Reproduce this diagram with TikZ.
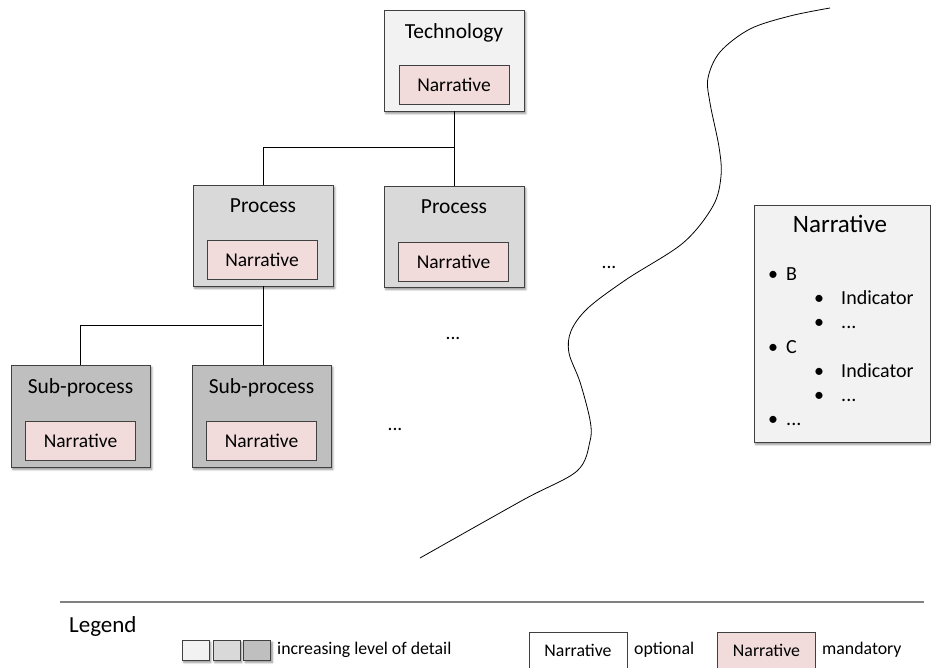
\documentclass[tikz,border=0pt]{standalone}
\usepackage{fontspec}
\setmainfont{Carlito}
\usetikzlibrary{shadows.blur}
\definecolor{lvlA}{HTML}{F2F2F2}
\definecolor{lvlB}{HTML}{D9D9D9}
\definecolor{lvlC}{HTML}{BFBFBF}
\definecolor{pinkbox}{HTML}{F2DCDB}
\definecolor{edgec}{HTML}{404040}
\definecolor{legline}{HTML}{808080}
\newcommand{\fsz}[1]{\fontsize{#1}{#1}\selectfont}
\begin{document}
\begin{tikzpicture}[x=1pt,y=-1pt,
  shad/.style={blur shadow={shadow xshift=1.8pt, shadow yshift=-2.4pt, shadow blur radius=2pt, shadow blur steps=5, shadow opacity=45, shadow blur extra rounding=0pt}},
  outerbox/.style={draw=edgec, line width=0.9pt, minimum width=140pt, minimum height=101pt, inner sep=0pt, shad},
  narr/.style={draw=edgec, fill=pinkbox, line width=0.9pt, minimum width=110pt, minimum height=39pt, inner sep=0pt, font=\fsz{19.5}},
  ttl/.style={anchor=base, font=\fsz{21.5}, inner sep=0pt},
  conn/.style={line width=0.8pt, black},
  dots/.style={anchor=base, font=\fsz{19.5}, inner sep=0pt},
  ptxt/.style={anchor=base west, font=\fsz{20}, inner sep=0pt},
  lgtxt/.style={anchor=base west, font=\fsz{17.8}, inner sep=0pt},
  swatch/.style={draw=edgec, line width=0.9pt, minimum width=27pt, minimum height=20pt, inner sep=0pt, shad},
  lgbox/.style={draw=edgec, line width=0.9pt, minimum width=98pt, minimum height=44pt, inner sep=0pt}
]
\useasboundingbox (0,0) rectangle (931,668);

% Technology
\node[outerbox, fill=lvlA] (tech) at (454,60.5) {};
\node[ttl] (techt) at (454,39) {Technology};
\node[narr] (techn) at (454,84.5) {Narrative};

% Processes
\node[outerbox, fill=lvlB] (p1) at (263,235.5) {};
\node[ttl] (p1t) at (263,213) {Process};
\node[narr] (p1n) at (262,259.5) {Narrative};

\node[outerbox, fill=lvlB] (p2) at (454,236.5) {};
\node[ttl] (p2t) at (454,214) {Process};
\node[narr] (p2n) at (453.5,261.5) {Narrative};

% Sub-processes
\node[outerbox, fill=lvlC, minimum width=139pt, minimum height=102pt] (s1) at (80.5,416) {};
\node[ttl] (s1t) at (80.5,393) {Sub-process};
\node[narr] (s1n) at (80.5,440.5) {Narrative};

\node[outerbox, fill=lvlC, minimum width=139pt, minimum height=102pt] (s2) at (261.5,416) {};
\node[ttl] (s2t) at (261.5,393) {Sub-process};
\node[narr] (s2n) at (261.5,440.5) {Narrative};

% connectors
\coordinate (j1) at (454,147);
\coordinate (j2) at (262,325);
\draw[conn] (tech.south) -- (p2.north);
\draw[conn] (j1) -| (p1.north);
\draw[conn] (p1.south) -- (s2.north -| p1.south);
\draw[conn] (j2) -| (s1.north);

% ellipses
\node[dots] (d1) at (453,339) {...};
\node[dots] (d2) at (395,430) {...};
\node[dots] (d3) at (609,269) {...};

% wavy divider
\draw[line width=0.8pt] plot[smooth, tension=0.55] coordinates {
 (420,558) (523,500) (577,471) (590,441) (590,420) (580,382) (569,353) (571,331)
 (588,308) (627,279) (683,243) (713,206) (721,176) (719,147) (710,103) (708,78)
 (720,52) (750,29) (790,16) (830,8)};

% Narrative panel
\node[draw=edgec, fill=lvlA, line width=0.9pt, minimum width=176pt, minimum height=237pt, inner sep=0pt, shad] (panel) at (842,323.5) {};
\node[anchor=base, font=\fsz{25}, inner sep=0pt] (panelt) at (840,233) {Narrative};
\node[ptxt] (b1) at (768,280) {•};
\node[ptxt] (b1t) at (786,280) {B};
\node[ptxt] (b2) at (814,304) {•};
\node[ptxt] (b2t) at (841,304) {Indicator};
\node[ptxt] (b3) at (814,328) {•};
\node[ptxt] (b3t) at (841,328) {...};
\node[ptxt] (b4) at (768,353) {•};
\node[ptxt] (b4t) at (786,353) {C};
\node[ptxt] (b5) at (814,377) {•};
\node[ptxt] (b5t) at (841,377) {Indicator};
\node[ptxt] (b6) at (814,401) {•};
\node[ptxt] (b6t) at (841,401) {...};
\node[ptxt] (b7) at (768,425) {•};
\node[ptxt] (b7t) at (786,425) {...};

% Legend
\draw[legline, line width=1.2pt] (60,602) -- (924,602);
\node[anchor=base west, font=\fsz{23}, inner sep=0pt] (legt) at (69,632) {Legend};
\node[swatch, fill=lvlA] (sw1) at (195.5,650) {};
\node[swatch, fill=lvlB] (sw2) at (226.5,650) {};
\node[swatch, fill=lvlC] (sw3) at (257,650) {};
\node[lgtxt] (swt) at (277,654) {increasing level of detail};
\node[lgbox, fill=white] (lgo) at (578,654) {};
\node[anchor=base, font=\fsz{17.8}, inner sep=0pt] (lgot) at (578,656) {Narrative};
\node[lgtxt] (lgol) at (634,654) {optional};
\node[lgbox, fill=pinkbox] (lgm) at (766.5,654) {};
\node[anchor=base, font=\fsz{17.8}, inner sep=0pt] (lgmt) at (766.5,656) {Narrative};
\node[lgtxt] (lgml) at (822,654) {mandatory};
\end{tikzpicture}
\end{document}
